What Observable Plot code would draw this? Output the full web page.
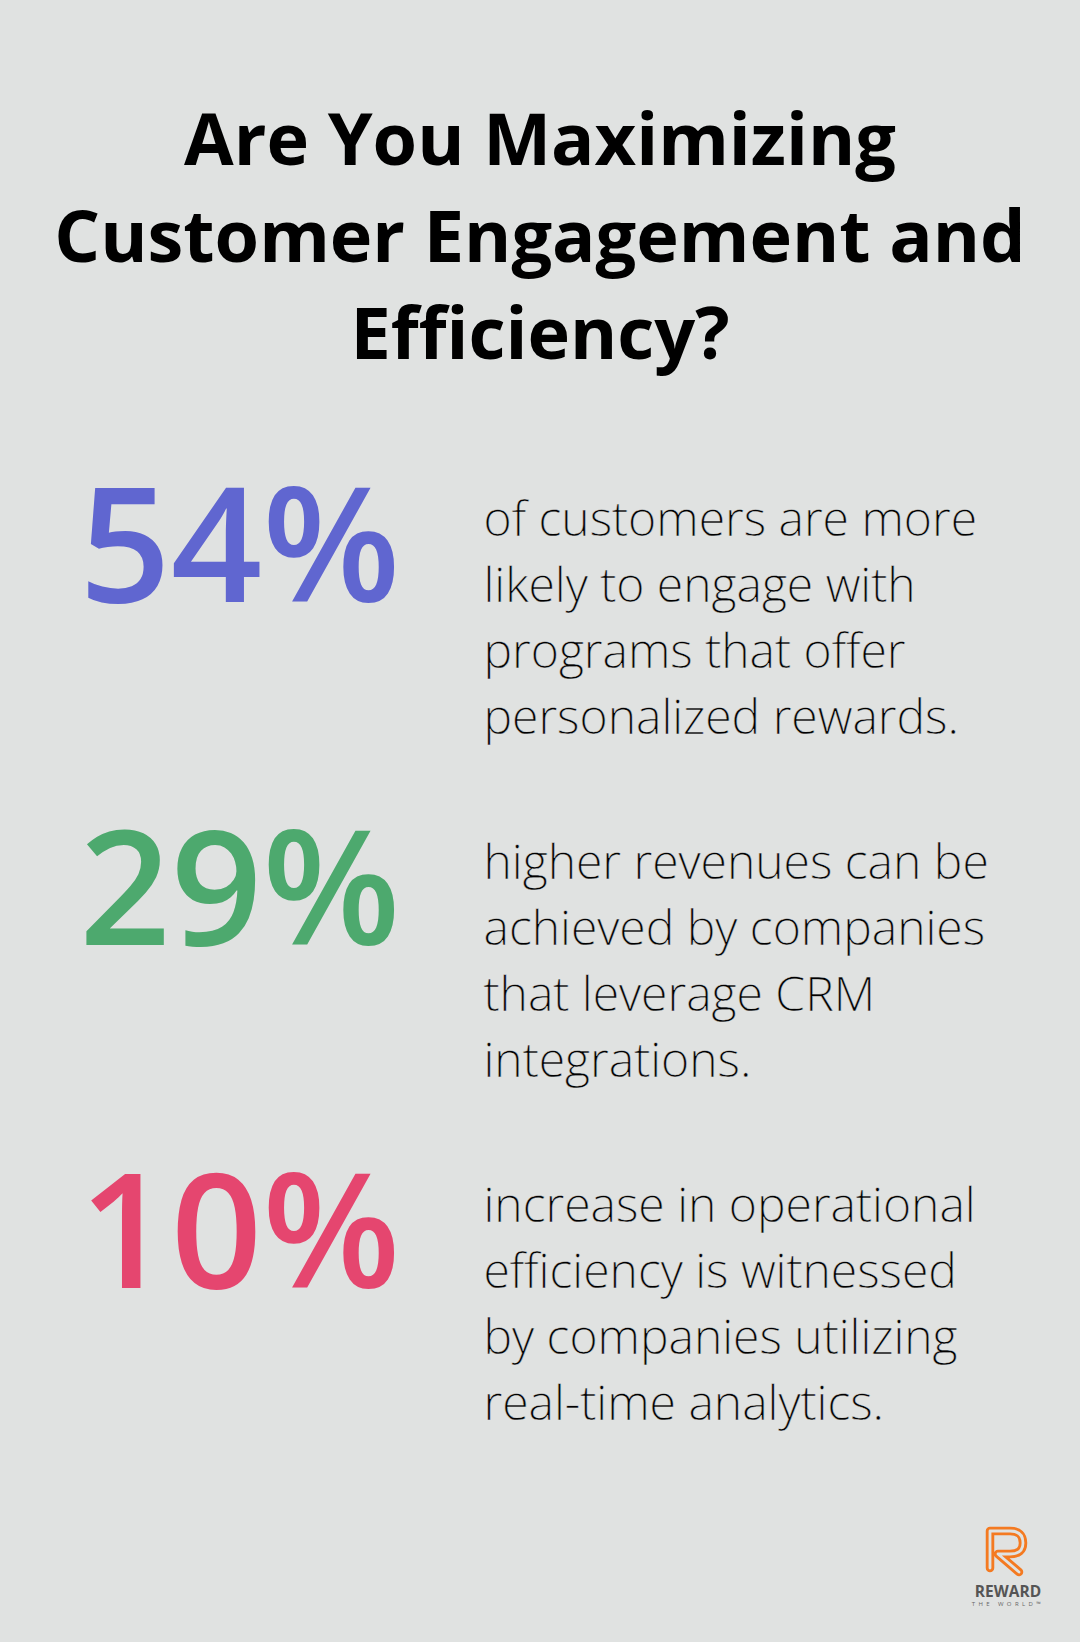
<!DOCTYPE html>
<html>
<head>
<meta charset="utf-8">
<script src="https://cdn.jsdelivr.net/npm/d3@7"></script>
<script src="https://cdn.jsdelivr.net/npm/@observablehq/plot@0.6"></script>
<style>
  html, body { margin: 0; padding: 0; background: #e0e2e1; }
  #page { position: relative; width: 1080px; height: 1642px; background: #e0e2e1; overflow: hidden; font-family: "Open Sans", sans-serif; }
  #title { position: absolute; left: 0; top: 89px; width: 1080px; text-align: center; font-family: "Open Sans", sans-serif; font-weight: 700; font-size: 72px; line-height: 97px; color: #000; margin: 0; }
  #chart { position: absolute; left: 0; top: 400px; }
  #logo { position: absolute; left: 960px; top: 1515px; }
</style>
</head>
<body>
<div id="page">
  <h1 id="title">Are You Maximizing<br>Customer Engagement and<br>Efficiency?</h1>
  <div id="chart"></div>
  <svg id="logo" width="100" height="100" viewBox="0 0 100 100">
    <path d="M30 53 L30 16 L50 16 Q63 16 63 28 Q63 39 50 39 L38 39 L59 57" fill="none" stroke="#f47a21" stroke-width="8.5" stroke-linejoin="round" stroke-linecap="round"/>
    <path d="M30 53 L30 16 L50 16 Q63 16 63 28 Q63 39 50 39 L38 39 L59 57" fill="none" stroke="#e0e2e1" stroke-width="2.8" stroke-linejoin="round" stroke-linecap="round"/>
    <text x="48" y="82" text-anchor="middle" font-family="Open Sans" font-weight="700" font-size="15.5" fill="#555">REWARD</text>
    <text x="48" y="91" text-anchor="middle" font-family="Open Sans" font-weight="400" font-size="6" letter-spacing="3.4" fill="#666">THE WORLD™</text>
  </svg>
</div>
<script>
const stats = ["54%", "29%", "10%"];
const descriptions = [
  "of customers are more\nlikely to engage with\nprograms that offer\npersonalized rewards.",
  "higher revenues can be\nachieved by companies\nthat leverage CRM\nintegrations.",
  "increase in operational\nefficiency is witnessed\nby companies utilizing\nreal-time analytics."
];
const colors = ["#6066d0", "#4da96e", "#e5466f"];
const columns = ["value", "label"];

const rows = stats.map((s, i) => ({stat: s, text: descriptions[i]}));

const chart = Plot.plot({
  width: 1080,
  height: 1060,
  margin: 0,
  style: {background: "transparent", fontFamily: "Open Sans"},
  x: {type: "point", domain: columns, range: [400, 483], padding: 0, axis: null},
  y: {type: "point", domain: stats, range: [88, 774], padding: 0, axis: null},
  color: {domain: stats, range: colors},
  marks: [
    Plot.text(rows, {
      x: () => "value", y: "stat", text: "stat", fill: "stat",
      textAnchor: "end", lineAnchor: "top",
      fontSize: 160, fontWeight: 600, fontFamily: "Open Sans"
    }),
    Plot.text(rows, {
      x: () => "label", y: "stat", text: "text", fill: "#000",
      stroke: "#e0e2e1", strokeWidth: 0.4, paintOrder: "normal",
      textAnchor: "start", lineAnchor: "top", dy: 0,
      fontSize: 48, fontWeight: 300, fontFamily: "Open Sans", lineHeight: 1.38
    })
  ]
});
document.getElementById("chart").appendChild(chart);
</script>
</body>
</html>
